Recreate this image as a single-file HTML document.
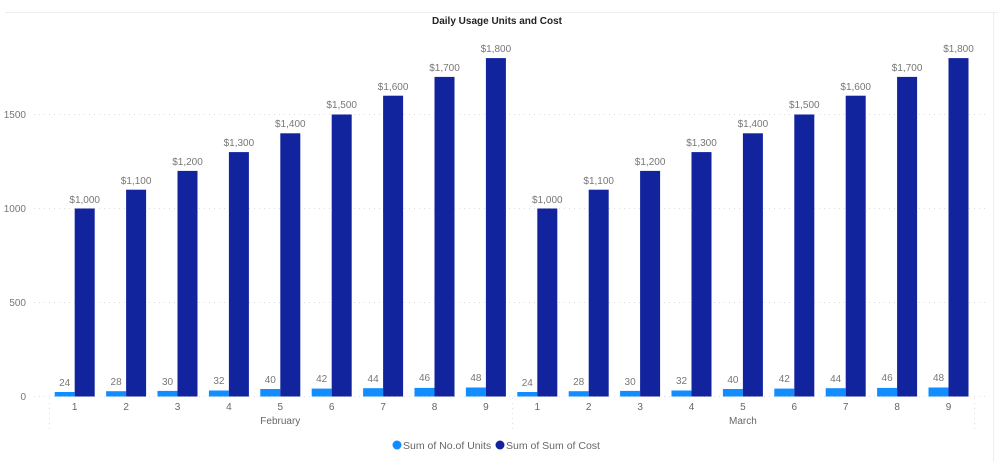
<!DOCTYPE html>
<html><head><meta charset="utf-8"><style>
html,body{margin:0;padding:0;background:#fff;}
svg{display:block;font-family:"Liberation Sans",sans-serif;}
.lb{font-size:10px;fill:#777;text-anchor:middle;}
.ax{font-size:10px;fill:#666;text-anchor:middle;}
.yl{font-size:10px;fill:#777;text-anchor:end;}
.g{stroke:#ddd;stroke-dasharray:1,4;stroke-width:1;}
.u{fill:#118dff;}
.c{fill:#12239e;}
</style></head><body>
<svg width="998" height="462" viewBox="0 0 998 462">
<line x1="5" y1="12.5" x2="998" y2="12.5" stroke="#eee"/>
<line x1="993.5" y1="12" x2="993.5" y2="462" stroke="#eee"/>
<text x="497" y="24" text-anchor="middle" style="font-size:10px;font-weight:bold;fill:#222">Daily Usage Units and Cost</text>
<line class="g" x1="34" y1="114.5" x2="988" y2="114.5"/>
<line class="g" x1="34" y1="208.5" x2="988" y2="208.5"/>
<line class="g" x1="34" y1="302.5" x2="988" y2="302.5"/>
<line class="g" x1="34" y1="396.5" x2="988" y2="396.5"/>
<text class="yl" x="26" y="118">1500</text>
<text class="yl" x="26" y="212">1000</text>
<text class="yl" x="26" y="306">500</text>
<text class="yl" x="26" y="400">0</text>
<line class="g" x1="49.5" y1="398" x2="49.5" y2="430"/>
<line class="g" x1="512.5" y1="398" x2="512.5" y2="430"/>
<line class="g" x1="974.5" y1="398" x2="974.5" y2="430"/>
<g>
<rect class="u" x="54.7" y="392" width="20" height="4.5"/><rect class="c" x="74.7" y="208.5" width="20" height="188"/>
<rect class="u" x="106.1" y="391.2" width="20" height="5.3"/><rect class="c" x="126.1" y="189.7" width="20" height="206.8"/>
<rect class="u" x="157.5" y="390.9" width="20" height="5.6"/><rect class="c" x="177.5" y="170.9" width="20" height="225.6"/>
<rect class="u" x="208.9" y="390.5" width="20" height="6"/><rect class="c" x="228.9" y="152.1" width="20" height="244.4"/>
<rect class="u" x="260.3" y="389" width="20" height="7.5"/><rect class="c" x="280.3" y="133.3" width="20" height="263.2"/>
<rect class="u" x="311.7" y="388.6" width="20" height="7.9"/><rect class="c" x="331.7" y="114.5" width="20" height="282"/>
<rect class="u" x="363.1" y="388.2" width="20" height="8.3"/><rect class="c" x="383.1" y="95.7" width="20" height="300.8"/>
<rect class="u" x="414.5" y="387.9" width="20" height="8.6"/><rect class="c" x="434.5" y="76.9" width="20" height="319.6"/>
<rect class="u" x="465.9" y="387.5" width="20" height="9"/><rect class="c" x="485.9" y="58.1" width="20" height="338.4"/>
<rect class="u" x="517.3" y="392" width="20" height="4.5"/><rect class="c" x="537.3" y="208.5" width="20" height="188"/>
<rect class="u" x="568.7" y="391.2" width="20" height="5.3"/><rect class="c" x="588.7" y="189.7" width="20" height="206.8"/>
<rect class="u" x="620.1" y="390.9" width="20" height="5.6"/><rect class="c" x="640.1" y="170.9" width="20" height="225.6"/>
<rect class="u" x="671.5" y="390.5" width="20" height="6"/><rect class="c" x="691.5" y="152.1" width="20" height="244.4"/>
<rect class="u" x="722.9" y="389" width="20" height="7.5"/><rect class="c" x="742.9" y="133.3" width="20" height="263.2"/>
<rect class="u" x="774.3" y="388.6" width="20" height="7.9"/><rect class="c" x="794.3" y="114.5" width="20" height="282"/>
<rect class="u" x="825.7" y="388.2" width="20" height="8.3"/><rect class="c" x="845.7" y="95.7" width="20" height="300.8"/>
<rect class="u" x="877.1" y="387.9" width="20" height="8.6"/><rect class="c" x="897.1" y="76.9" width="20" height="319.6"/>
<rect class="u" x="928.5" y="387.5" width="20" height="9"/><rect class="c" x="948.5" y="58.1" width="20" height="338.4"/>
</g>
<g>
<text class="lb" x="64.7" y="386">24</text><text class="lb" x="84.7" y="203">$1,000</text>
<text class="lb" x="116.1" y="385">28</text><text class="lb" x="136.1" y="184">$1,100</text>
<text class="lb" x="167.5" y="385">30</text><text class="lb" x="187.5" y="165">$1,200</text>
<text class="lb" x="218.9" y="384">32</text><text class="lb" x="238.9" y="146">$1,300</text>
<text class="lb" x="270.3" y="383">40</text><text class="lb" x="290.3" y="127">$1,400</text>
<text class="lb" x="321.7" y="382">42</text><text class="lb" x="341.7" y="108">$1,500</text>
<text class="lb" x="373.1" y="382">44</text><text class="lb" x="393.1" y="90">$1,600</text>
<text class="lb" x="424.5" y="381">46</text><text class="lb" x="444.5" y="71">$1,700</text>
<text class="lb" x="475.9" y="381">48</text><text class="lb" x="495.9" y="52">$1,800</text>
<text class="lb" x="527.3" y="386">24</text><text class="lb" x="547.3" y="203">$1,000</text>
<text class="lb" x="578.7" y="385">28</text><text class="lb" x="598.7" y="184">$1,100</text>
<text class="lb" x="630.1" y="385">30</text><text class="lb" x="650.1" y="165">$1,200</text>
<text class="lb" x="681.5" y="384">32</text><text class="lb" x="701.5" y="146">$1,300</text>
<text class="lb" x="732.9" y="383">40</text><text class="lb" x="752.9" y="127">$1,400</text>
<text class="lb" x="784.3" y="382">42</text><text class="lb" x="804.3" y="108">$1,500</text>
<text class="lb" x="835.7" y="382">44</text><text class="lb" x="855.7" y="90">$1,600</text>
<text class="lb" x="887.1" y="381">46</text><text class="lb" x="907.1" y="71">$1,700</text>
<text class="lb" x="938.5" y="381">48</text><text class="lb" x="958.5" y="52">$1,800</text>
</g>
<g>
<text class="ax" x="74.7" y="410">1</text><text class="ax" x="126.1" y="410">2</text><text class="ax" x="177.5" y="410">3</text><text class="ax" x="228.9" y="410">4</text><text class="ax" x="280.3" y="410">5</text><text class="ax" x="331.7" y="410">6</text><text class="ax" x="383.1" y="410">7</text><text class="ax" x="434.5" y="410">8</text><text class="ax" x="485.9" y="410">9</text>
<text class="ax" x="537.3" y="410">1</text><text class="ax" x="588.7" y="410">2</text><text class="ax" x="640.1" y="410">3</text><text class="ax" x="691.5" y="410">4</text><text class="ax" x="742.9" y="410">5</text><text class="ax" x="794.3" y="410">6</text><text class="ax" x="845.7" y="410">7</text><text class="ax" x="897.1" y="410">8</text><text class="ax" x="948.5" y="410">9</text>
<text class="ax" x="280.3" y="424">February</text>
<text class="ax" x="742.9" y="424">March</text>
</g>
<circle cx="397" cy="445" r="4.5" fill="#118dff"/>
<text x="403" y="449" style="font-size:10.5px;fill:#666">Sum of No.of Units</text>
<circle cx="500" cy="445" r="4.5" fill="#12239e"/>
<text x="506" y="449" style="font-size:10.5px;fill:#666">Sum of Sum of Cost</text>
</svg>
</body></html>
